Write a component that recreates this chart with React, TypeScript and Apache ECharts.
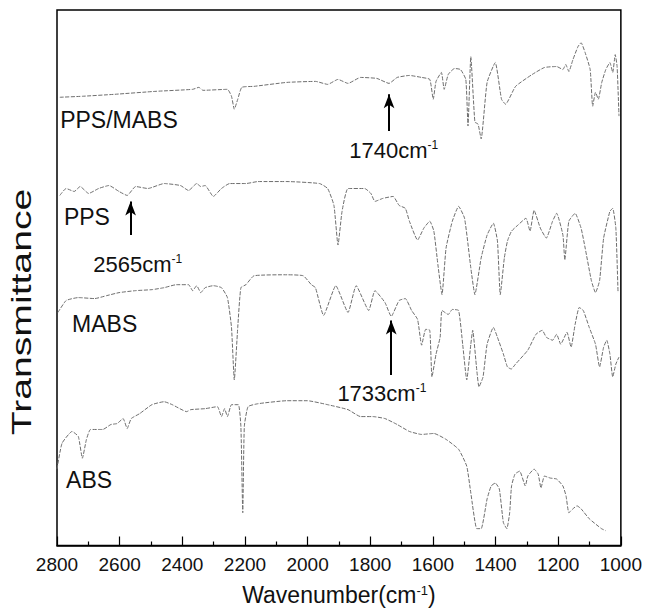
import React, { useEffect, useRef } from "react";
import * as echarts from "echarts";

// Wavenumbers (cm^-1) and transmittance (arbitrary offset units) for each spectrum
const ppsMabsWn = [2791, 2719, 2615, 2484, 2367, 2347, 2334, 2256, 2243, 2234, 2223, 2210, 2171, 2066, 1975, 1936, 1903, 1871, 1831, 1779, 1740, 1714, 1675, 1636, 1610, 1599, 1590, 1573, 1564, 1551, 1531, 1512, 1495, 1488, 1479, 1466, 1456, 1446, 1427, 1401, 1381, 1368, 1336, 1283, 1244, 1205, 1185, 1176, 1166, 1153, 1137, 1127, 1114, 1098, 1090, 1081, 1072, 1061, 1048, 1035, 1026, 1018, 1012, 1006];
const ppsMabsT = [452, 453, 455, 458, 460, 462, 459, 460, 453, 440, 450, 462, 463, 467, 468, 465, 470, 466, 472, 471, 466, 472, 474, 472, 470, 450, 468, 477, 460, 475, 481, 480, 470, 423, 493, 427, 425, 410, 467, 487, 450, 445, 463, 475, 482, 483, 480, 485, 478, 490, 503, 507, 497, 480, 443, 457, 450, 467, 480, 487, 477, 495, 483, 433];

const ppsWn = [2791, 2771, 2745, 2726, 2699, 2667, 2634, 2602, 2576, 2549, 2510, 2458, 2406, 2380, 2354, 2341, 2327, 2301, 2275, 2249, 2197, 2158, 2066, 1962, 1936, 1916, 1903, 1890, 1871, 1818, 1798, 1785, 1760, 1727, 1708, 1688, 1675, 1649, 1629, 1610, 1597, 1584, 1571, 1558, 1538, 1518, 1499, 1479, 1466, 1446, 1427, 1407, 1394, 1385, 1372, 1362, 1349, 1329, 1303, 1290, 1277, 1257, 1238, 1218, 1205, 1185, 1179, 1166, 1146, 1127, 1114, 1094, 1081, 1068, 1055, 1035, 1026, 1016, 1009];
const ppsT = [353, 360, 357, 362, 355, 360, 363, 357, 353, 362, 360, 365, 363, 358, 365, 362, 363, 352, 360, 365, 365, 367, 367, 365, 360, 343, 303, 337, 360, 360, 355, 347, 350, 352, 343, 340, 327, 308, 320, 327, 317, 283, 253, 300, 327, 342, 330, 280, 253, 290, 313, 325, 307, 253, 290, 307, 317, 323, 330, 317, 338, 320, 310, 327, 335, 313, 288, 327, 335, 320, 300, 267, 255, 267, 310, 337, 340, 320, 255];

const mabsWn = [2797, 2771, 2732, 2680, 2641, 2602, 2549, 2497, 2458, 2419, 2380, 2367, 2354, 2341, 2327, 2301, 2275, 2256, 2243, 2234, 2223, 2213, 2197, 2171, 2066, 2014, 1988, 1975, 1949, 1910, 1871, 1845, 1805, 1785, 1753, 1733, 1708, 1688, 1668, 1649, 1636, 1623, 1610, 1603, 1590, 1577, 1571, 1551, 1538, 1518, 1505, 1492, 1479, 1473, 1460, 1453, 1440, 1427, 1407, 1394, 1375, 1362, 1350, 1336, 1297, 1271, 1251, 1238, 1218, 1205, 1192, 1172, 1159, 1146, 1133, 1120, 1101, 1081, 1068, 1055, 1045, 1035, 1026, 1016, 1006];
const mabsT = [235, 247, 250, 249, 252, 255, 257, 258, 260, 263, 263, 257, 262, 255, 260, 262, 260, 250, 220, 167, 220, 260, 263, 272, 273, 272, 263, 260, 232, 262, 235, 262, 237, 257, 245, 231, 247, 249, 237, 228, 202, 218, 217, 170, 193, 210, 237, 233, 238, 237, 203, 167, 203, 217, 177, 160, 170, 203, 220, 210, 193, 180, 178, 183, 197, 213, 217, 210, 207, 213, 203, 215, 200, 223, 240, 237, 220, 203, 180, 200, 207, 193, 170, 183, 190];

const absWn = [2800, 2784, 2752, 2732, 2719, 2706, 2693, 2654, 2628, 2608, 2589, 2576, 2563, 2536, 2497, 2458, 2432, 2386, 2373, 2327, 2288, 2275, 2265, 2256, 2243, 2221, 2213, 2207, 2202, 2190, 2158, 2066, 2001, 1936, 1871, 1831, 1792, 1753, 1714, 1675, 1636, 1597, 1558, 1518, 1492, 1479, 1460, 1446, 1427, 1414, 1401, 1388, 1375, 1364, 1355, 1349, 1338, 1323, 1305, 1297, 1277, 1264, 1255, 1244, 1225, 1205, 1185, 1175, 1166, 1153, 1140, 1127, 1101, 1062, 1049];
const absT = [77, 103, 115, 110, 88, 107, 117, 117, 122, 123, 128, 118, 128, 133, 142, 145, 142, 135, 137, 138, 140, 130, 138, 130, 142, 142, 120, 33, 120, 140, 143, 146, 146, 142, 137, 130, 130, 128, 122, 115, 112, 113, 107, 97, 80, 53, 17, 17, 47, 60, 63, 57, 23, 17, 33, 60, 72, 75, 60, 70, 77, 72, 58, 70, 68, 67, 60, 50, 33, 37, 40, 37, 27, 17, 15];

const seriesNames = ["PPS/MABS", "PPS", "MABS", "ABS"];
const xTickMin = 1000;
const xTickMax = 2800;
const xTickStep = 200;

// Annotation arrows: [wavenumber, tail value, tip value]
const arrows = [
  [1740, 418, 455],
  [2565, 313, 347],
  [1733, 172, 227],
];
// Annotation labels: [text, wavenumber, value]
const annotations: [string, number, number][] = [
  ["1740", 1725, 398],
  ["2565", 2542, 283],
  ["1733", 1763, 153],
];
// Spectrum name labels: [wavenumber, value]
const nameLabelPos = [
  [2790, 429],
  [2778, 331],
  [2752, 223],
  [2771, 66],
];

const FONT = "Liberation Sans, Arial, Helvetica, sans-serif";

const zip = (a: number[], b: number[]) => a.map((w, i) => [w, b[i]]);

export default function App() {
  const ref = useRef<HTMLDivElement>(null);
  useEffect(() => {
    if (!ref.current) return;
    const chart = echarts.init(ref.current, undefined, { renderer: "svg" });
    const spectra = [
      zip(ppsMabsWn, ppsMabsT),
      zip(ppsWn, ppsT),
      zip(mabsWn, mabsT),
      zip(absWn, absT),
    ];
    const lineSeries: any[] = spectra.map((d, i) => ({
      type: "line",
      name: seriesNames[i],
      data: d,
      showSymbol: false,
      smooth: 0.15,
      lineStyle: { color: "#6e6e6e", width: 1, type: [4, 1.5] },
      silent: true,
      markPoint: {
        symbol: "circle",
        symbolSize: 0,
        silent: true,
        label: {
          show: true,
          position: "right",
          distance: 0,
          color: "#111",
          fontFamily: FONT,
          fontSize: 23,
          formatter: seriesNames[i],
        },
        data: [{ coord: nameLabelPos[i] }],
      },
    }));
    // annotation series (no line data), arrows and labels
    lineSeries.push({
      type: "line",
      name: "annot",
      data: [],
      silent: true,
      markLine: {
        silent: true,
        symbol: ["none", "arrow"],
        symbolSize: [8, 14],
        label: { show: false },
        lineStyle: { color: "#000", width: 2, type: "solid" },
        data: arrows.map(([w, a, b]) => [
          { coord: [w, a] },
          { coord: [w, b] },
        ]),
      },
      markPoint: {
        symbol: "circle",
        symbolSize: 0,
        silent: true,
        label: {
          show: true,
          position: "inside",
          color: "#111",
          fontFamily: FONT,
          formatter: (p: any) => `{n|${p.name}cm}{s|-1}`,
          rich: {
            n: { fontSize: 22, fontFamily: FONT, color: "#111", lineHeight: 24 },
            s: { fontSize: 12, fontFamily: FONT, color: "#111", verticalAlign: "top", lineHeight: 12 },
          },
        },
        data: annotations.map(([t, w, v]) => ({ name: t, coord: [w, v] })),
      },
    });

    chart.setOption({
      animation: false,
      backgroundColor: "#fff",
      grid: {
        left: 57,
        right: 22,
        top: 10,
        bottom: 61,
        show: true,
        borderColor: "#000",
        borderWidth: 1.5,
      },
      xAxis: {
        type: "value",
        inverse: true,
        min: xTickMin,
        max: xTickMax,
        interval: xTickStep,
        axisLine: { show: true, lineStyle: { color: "#000", width: 1.5 } },
        axisTick: { show: true, inside: true, length: 9, lineStyle: { color: "#000", width: 1.2 } },
        minorTick: { show: true, splitNumber: 2, length: 4, lineStyle: { color: "#000", width: 1.2 } },
        splitLine: { show: false },
        axisLabel: {
          show: true,
          color: "#111",
          fontFamily: FONT,
          fontSize: 19,
          margin: 9,
          showMinLabel: true,
          showMaxLabel: true,
          formatter: (v: number) => String(v),
        },
        name: "{a|Wavenumber(cm}{s|-1}{a|)}",
        nameLocation: "middle",
        nameGap: 38,
        nameTextStyle: {
          rich: {
            a: { fontSize: 23, fontFamily: FONT, color: "#111", lineHeight: 22 },
            s: { fontSize: 13, fontFamily: FONT, color: "#111", verticalAlign: "top", lineHeight: 12 },
          },
        },
      },
      yAxis: {
        type: "value",
        min: 0,
        max: 540,
        axisLine: { show: false },
        axisTick: { show: false },
        axisLabel: { show: false },
        splitLine: { show: false },
      },
      graphic: [
        {
          type: "text",
          x: 22,
          y: 312,
          rotation: Math.PI / 2,
          scaleX: 1.45,
          style: {
            text: "Transmittance",
            fill: "#111",
            font: `27px ${FONT}`,
            textAlign: "center",
            textVerticalAlign: "middle",
          },
        },
      ],
      series: lineSeries,
    });
    return () => chart.dispose();
  }, []);
  return (
    <div
      ref={ref}
      style={{ position: "fixed", left: 0, top: 0, width: 645, height: 611 }}
    />
  );
}
